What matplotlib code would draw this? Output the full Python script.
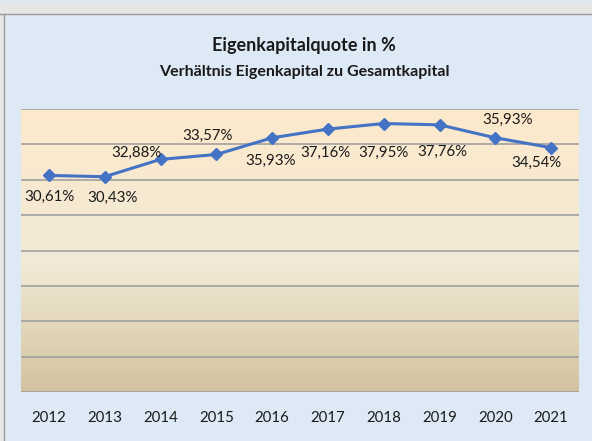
import numpy as np
import matplotlib
matplotlib.use('Agg')
import matplotlib.pyplot as plt
from matplotlib.colors import LinearSegmentedColormap
from matplotlib.patches import Rectangle

# Chart data
years = ['2012', '2013', '2014', '2015', '2016', '2017', '2018', '2019', '2020', '2021']
quote = [30.61, 30.43, 32.88, 33.57, 35.93, 37.16, 37.95, 37.76, 35.93, 34.54]
labels = ['30,61%', '30,43%', '32,88%', '33,57%', '35,93%',
          '37,16%', '37,95%', '37,76%', '35,93%', '34,54%']

# Where each data label sits relative to its point (pixels)
label_offsets = [(1, -21), (8, -21), (-24, 6), (-9, 19), (-2, -23),
                 (-3, -24), (0, -29), (3, -27), (12, 18), (-15, -15)]

plt.rcParams['font.family'] = ['Lato', 'DejaVu Sans']

fig = plt.figure(figsize=(5.92, 4.41), dpi=100, facecolor='#dde9f5')

# Window-like frame around the chart
fig.patches.append(Rectangle((0, 1 - 14/441), 1, 14/441, transform=fig.transFigure,
                             facecolor='#e6e6e6', edgecolor='none', zorder=0))
fig.patches.append(Rectangle((0, 1 - 3/441), 1, 3/441, transform=fig.transFigure,
                             facecolor='#dde9f5', edgecolor='none', zorder=0))
fig.add_artist(plt.Line2D([0, 1], [1 - 14/441, 1 - 14/441], transform=fig.transFigure,
                          color='#9a9a9a', lw=1))
fig.add_artist(plt.Line2D([4/592, 4/592], [0, 1 - 14/441], transform=fig.transFigure,
                          color='#9a9a9a', lw=1))
fig.patches.append(Rectangle((0, 0), 4/592, 1 - 14/441, transform=fig.transFigure,
                             facecolor='#e6e6e6', edgecolor='none', zorder=0))

ax = fig.add_axes([21/592, 49/441, 558/592, 283/441])
x = np.arange(len(years))
ax.set_xlim(-0.5, len(years) - 0.5)
ax.set_ylim(0, 40)

# Gradient plot area
cmap = LinearSegmentedColormap.from_list('parchment',
                                         [(0, '#d2c29f'), (0.45, '#f1ead6'), (1, '#fde9cc')])
grad = np.linspace(0, 1, 256).reshape(-1, 1)
ax.imshow(grad, cmap=cmap, aspect='auto', origin='lower',
          extent=[-0.5, len(years) - 0.5, 0, 40], zorder=0)

for yv in range(0, 41, 5):
    ax.axhline(yv, color='#a0a0a0', lw=1.2, zorder=1)

ax.plot(x, quote, color='#4472c4', lw=2.2, marker='D', markersize=6, zorder=3)

for xi, yi, lab, (dx, dy) in zip(x, quote, labels, label_offsets):
    ax.annotate(lab, (xi, yi), xytext=(dx, dy), textcoords='offset pixels',
                ha='center', va='center', fontsize=10.8, color='#1a1a1a')

ax.set_xticks(x)
ax.set_xticklabels(years, fontsize=10.8, color='#1a1a1a')
ax.set_yticks([])
ax.tick_params(axis='x', length=0, pad=14)
for s in ax.spines.values():
    s.set_visible(False)

fig.text(304/592, 1 - 45/441, 'Eigenkapitalquote in %', ha='center', va='center',
         fontsize=13, fontweight='bold', color='#1a1a1a')
fig.text(304/592, 1 - 72/441, 'Verhältnis Eigenkapital zu Gesamtkapital', ha='center',
         va='center', fontsize=11.5, fontweight='bold', color='#1a1a1a')

fig.savefig('out.png', dpi=100, facecolor=fig.get_facecolor())
